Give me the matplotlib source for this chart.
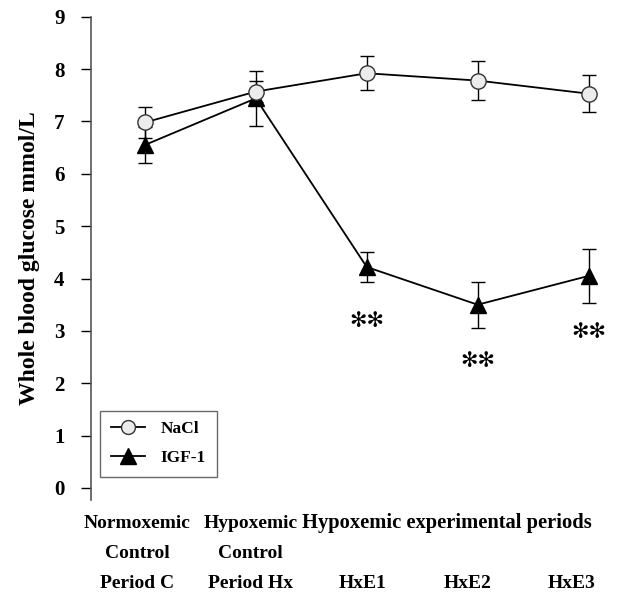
import matplotlib.pyplot as plt
import numpy as np
from matplotlib import rcParams
from matplotlib.lines import Line2D
from matplotlib.transforms import blended_transform_factory

config = {
    "font.family": 'serif',
    "font.serif": ['Liberation Serif', 'DejaVu Serif'],
    "font.weight": 'bold',
    "axes.labelweight": 'bold',
}
rcParams.update(config)

periods = ["C", "Hx", "HxE1", "HxE2", "HxE3"]
row1 = ["Normoxemic", "Hypoxemic"]
row2 = ["Control", "Control"]
row3 = ["Period C", "Period Hx", "HxE1", "HxE2", "HxE3"]
span_label = "Hypoxemic experimental periods"

nacl = [6.98, 7.57, 7.92, 7.78, 7.53]
nacl_err = [0.30, 0.20, 0.32, 0.38, 0.35]
igf = [6.55, 7.44, 4.22, 3.50, 4.05]
igf_err = [0.35, 0.52, 0.28, 0.44, 0.52]

sig_idx = [2, 3, 4]
sig_y = [3.18, 2.42, 2.97]


def draw():
    fig = plt.figure(figsize=(6.36, 5.96), dpi=100)
    ax = fig.add_axes([0.143, 0.161, 0.847, 0.811])
    x = np.arange(len(periods))

    ax.errorbar(x, igf, yerr=igf_err, color='black', lw=1.3, marker='^', ms=12,
                mfc='black', mec='black', capsize=5, elinewidth=1, capthick=1,
                zorder=3)
    ax.errorbar(x, nacl, yerr=nacl_err, color='black', lw=1.3, marker='o', ms=11,
                mfc='#ececec', mec='#333333', mew=1, capsize=5, elinewidth=1,
                capthick=1, zorder=4)

    for i, yy in zip(sig_idx, sig_y):
        ax.text(x[i], yy, "✻✻", ha='center', va='center', fontsize=15,
                family=['DejaVu Sans'], color='black')

    ax.set_xlim(-0.486, 4.37)
    ax.set_ylim(-0.23, 9)
    ax.set_yticks(range(0, 10))
    ax.tick_params(axis='y', direction='out', length=7, width=1, labelsize=15, pad=12)
    ax.set_xticks([])
    for s in ['top', 'right', 'bottom']:
        ax.spines[s].set_visible(False)
    ax.spines['left'].set_color('#555555')
    ax.spines['left'].set_linewidth(1.2)
    for lab in ax.get_yticklabels():
        lab.set_fontweight('bold')

    ax.set_ylabel("Whole blood glucose mmol/L", fontsize=17, labelpad=10)

    trans = blended_transform_factory(ax.transData, fig.transFigure)
    offs = [-0.07, -0.05, -0.04, -0.09, -0.15]
    for i, t in enumerate(row1):
        ax.text(x[i] + offs[i], 1 - 523 / 596, t, transform=trans, ha='center',
                va='center', fontsize=14, fontweight='bold')
    for i, t in enumerate(row2):
        ax.text(x[i] + offs[i], 1 - 553 / 596, t, transform=trans, ha='center',
                va='center', fontsize=14, fontweight='bold')
    for i, t in enumerate(row3):
        ax.text(x[i] + offs[i], 1 - 583 / 596, t, transform=trans, ha='center',
                va='center', fontsize=14, fontweight='bold')
    ax.text(x[3] - 0.28, 1 - 523 / 596, span_label, transform=trans, ha='center',
            va='center', fontsize=14.8, fontweight='bold')

    handles = [
        Line2D([], [], color='black', lw=1.3, marker='o', ms=10, mfc='#ececec',
               mec='#333333', mew=1),
        Line2D([], [], color='black', lw=1.3, marker='^', ms=11, mfc='black',
               mec='black'),
    ]
    leg = ax.legend(handles, ["NaCl", "IGF-1"], loc='lower left',
                    bbox_to_anchor=(0.017, 0.048), frameon=True, fancybox=False,
                    edgecolor='#444444', prop={'size': 12.5, 'weight': 'bold'},
                    handlelength=2.0, labelspacing=0.75, borderpad=0.6,
                    handletextpad=0.9, borderaxespad=0)
    leg.get_frame().set_linewidth(1)

    plt.savefig("out.png", dpi=100)


if __name__ == '__main__':
    draw()
